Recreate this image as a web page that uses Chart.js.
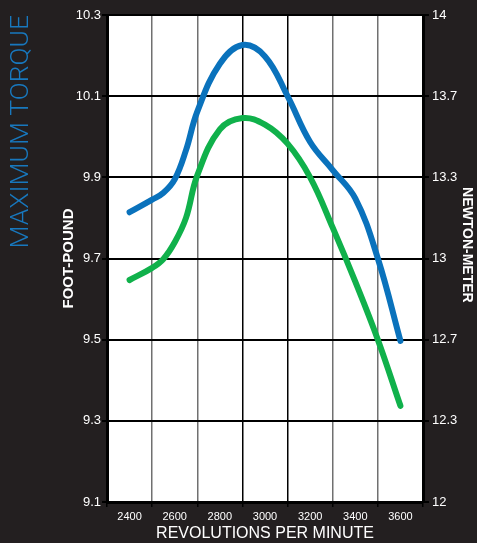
<!DOCTYPE html>
<html>
<head>
<meta charset="utf-8">
<script src="https://cdn.jsdelivr.net/npm/chart.js@4/dist/chart.umd.min.js"></script>
<style>
  html, body { margin: 0; padding: 0; background: #231f20; }
  canvas { display: block; }
</style>
</head>
<body>
<canvas id="c" width="477" height="543"></canvas>
<script>
// ---- data ----
const rpm = [2400, 2500, 2550, 2600, 2650, 2700, 2800, 2900, 3000, 3100, 3200, 3300, 3400, 3500, 3600];
const rpmLabels = [2400, 2600, 2800, 3000, 3200, 3400, 3600];
const rpmGrid = [2300, 2500, 2700, 2900, 3100, 3300, 3500, 3700];
const torqueBlue = [9.814, 9.845, 9.862, 9.895, 9.967, 10.062, 10.180, 10.226, 10.198, 10.10, 9.987, 9.918, 9.848, 9.70, 9.497];
const torqueGreen = [9.647, 9.677, 9.699, 9.74, 9.800, 9.905, 10.018, 10.046, 10.03, 9.983, 9.90, 9.776, 9.643, 9.50, 9.337];
const ftTicks = [9.1, 9.3, 9.5, 9.7, 9.9, 10.1, 10.3];
const nmTickLabels = ['12', '12.3', '12.7', '13', '13.3', '13.7', '14'];

const BG = '#231f20';
const BLUE = '#0a72bc';
const GREEN = '#10b14b';

const bgPlugin = {
  id: 'bg',
  beforeDraw(chart) {
    const { ctx, chartArea: a } = chart;
    ctx.save();
    ctx.fillStyle = BG;
    ctx.fillRect(0, 0, chart.width, chart.height);
    ctx.fillStyle = '#ffffff';
    ctx.fillRect(a.left, a.top, a.right - a.left, a.bottom - a.top);
    ctx.restore();
  }
};

const tickFont = { family: "'Liberation Sans', Arial, sans-serif", size: 13 };
const lineStyle = { borderWidth: 6, tension: 0.4, pointRadius: 0, borderCapStyle: 'round', borderJoinStyle: 'round', yAxisID: 'y' };

new Chart(document.getElementById('c'), {
  type: 'line',
  data: {
    datasets: [
      Object.assign({ label: 'Blue', data: rpm.map((x, i) => ({ x, y: torqueBlue[i] })), borderColor: BLUE }, lineStyle),
      Object.assign({ label: 'Green', data: rpm.map((x, i) => ({ x, y: torqueGreen[i] })), borderColor: GREEN }, lineStyle)
    ]
  },
  options: {
    responsive: false,
    animation: false,
    layout: { padding: { top: 15, left: 0, right: 0, bottom: 0 } },
    plugins: {
      legend: { display: false },
      tooltip: { enabled: false },
      title: {
        display: true,
        text: 'MAXIMUM TORQUE',
        position: 'left',
        align: 'end',
        color: '#1878be',
        font: { family: "Roboto, 'Liberation Sans', sans-serif", size: 26.5, weight: '300' },
        padding: { top: 5, bottom: 0 }
      }
    },
    scales: {
      x: {
        type: 'linear',
        min: 2300,
        max: 3700,
        afterBuildTicks(scale) {
          const t = [];
          for (let v = 2300; v <= 3700; v += 100) t.push({ value: v });
          scale.ticks = t;
        },
        afterFit(scale) { scale.height = 41; },
        ticks: {
          autoSkip: false,
          maxRotation: 0,
          padding: 3,
          color: '#ffffff',
          font: { family: "'Liberation Sans', Arial, sans-serif", size: 11 },
          callback: (v) => rpmLabels.includes(v) ? String(v) : ''
        },
        grid: {
          color: (c) => !c.tick || !rpmGrid.includes(c.tick.value) ? 'rgba(0,0,0,0)' : ((c.tick.value === 2900 || c.tick.value === 3100) ? '#000000' : '#707070'),
          tickColor: (c) => c.tick && rpmGrid.includes(c.tick.value) ? '#000000' : 'rgba(0,0,0,0)',
          lineWidth: 1.5,
          tickLength: 5
        },
        border: { color: '#000000', width: 3 },
        title: {
          display: true,
          text: 'REVOLUTIONS PER MINUTE',
          color: '#ffffff',
          font: { family: "'Liberation Sans', Arial, sans-serif", size: 16 },
          padding: { top: 0, bottom: 0 }
        }
      },
      y: {
        type: 'linear',
        position: 'left',
        min: 9.1,
        max: 10.3,
        afterBuildTicks(scale) { scale.ticks = ftTicks.map(v => ({ value: v })); },
        afterFit(scale) { scale.width = 108 - 37.8; },
        ticks: {
          color: '#ffffff',
          font: tickFont,
          padding: 1,
          callback: (v) => v.toFixed(1)
        },
        grid: { color: '#000000', lineWidth: 2, tickLength: 5, tickColor: '#000000' },
        border: { color: '#000000', width: 3 },
        title: {
          display: true,
          text: 'FOOT-POUND',
          color: '#ffffff',
          font: { family: "'Liberation Sans', Arial, sans-serif", size: 15, weight: 'bold' },
          padding: { top: 23, bottom: 0 }
        }
      },
      y2: {
        type: 'linear',
        position: 'right',
        min: 12,
        max: 14,
        afterBuildTicks(scale) { scale.ticks = nmTickLabels.map((_, i) => ({ value: 12 + i * 2 / 6 })); },
        afterFit(scale) { scale.width = 54; },
        ticks: {
          color: '#ffffff',
          font: tickFont,
          padding: 3,
          callback: (v, i) => nmTickLabels[i]
        },
        grid: { drawOnChartArea: false, tickLength: 6, tickColor: '#000000', lineWidth: 2 },
        border: { color: '#000000', width: 3 },
        title: {
          display: true,
          text: 'NEWTON-METER       ',
          color: '#ffffff',
          font: { family: "'Liberation Sans', Arial, sans-serif", size: 14, weight: 'bold' },
          padding: { top: 2, bottom: 0 }
        }
      }
    }
  },
  plugins: [bgPlugin]
});
</script>
</body>
</html>
